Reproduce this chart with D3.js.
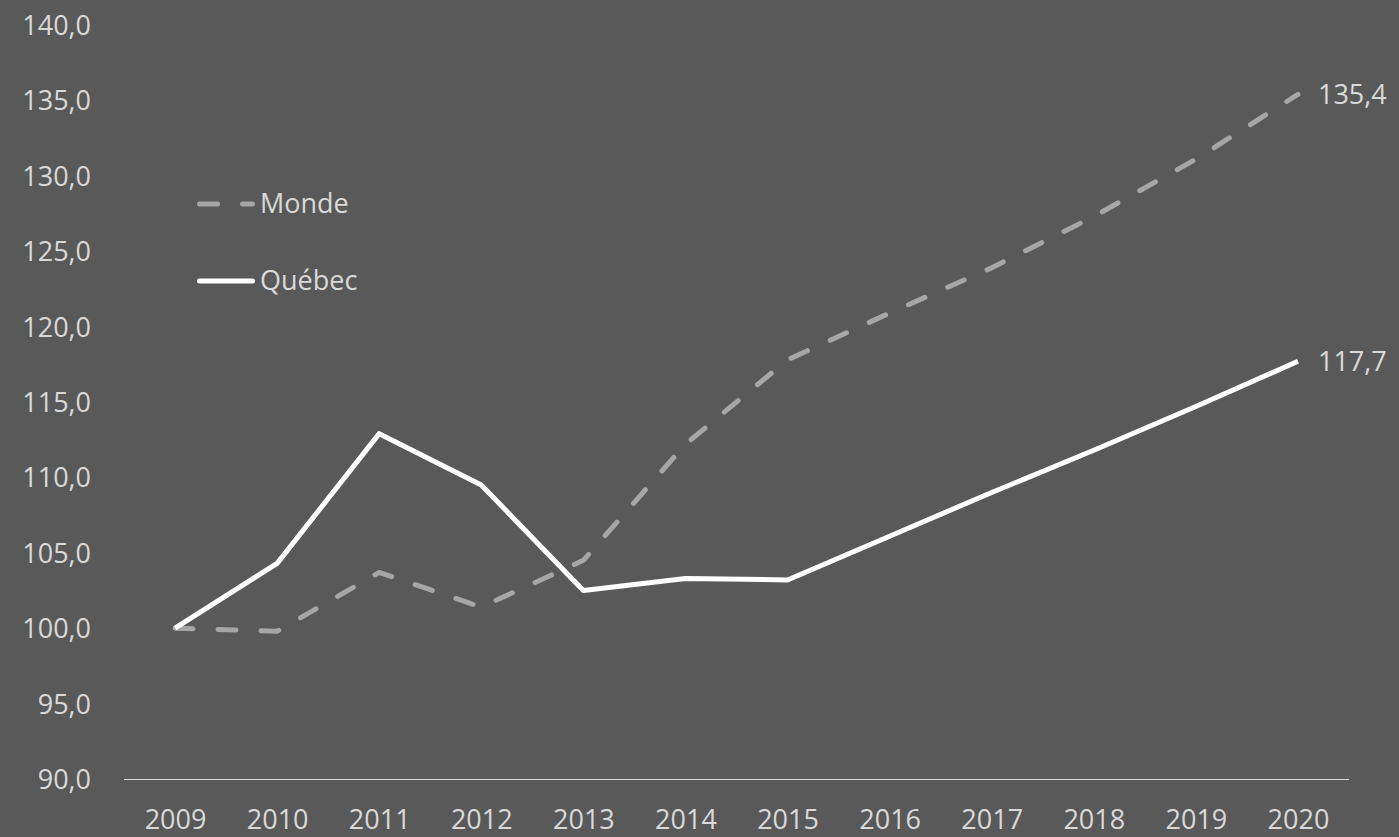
<!DOCTYPE html>
<html>
<head>
<meta charset="utf-8">
<script src="https://cdn.jsdelivr.net/npm/d3@7/dist/d3.min.js"></script>
<style>
  html, body { margin: 0; padding: 0; background: #595959; }
  svg { display: block; }
  text { font-family: "Open Sans", "Noto Sans", sans-serif; fill: #d9d9d9; }
</style>
</head>
<body>
<svg id="chart" width="1399" height="837"></svg>
<script>
// Index (2009 = 100)
const years = ["2009","2010","2011","2012","2013","2014","2015","2016","2017","2018","2019","2020"];
const monde = [100.0, 99.8, 103.7, 101.4, 104.5, 112.2, 117.8, 120.9, 123.9, 127.3, 131.1, 135.4];
const quebec = [100.0, 104.3, 112.9, 109.5, 102.5, 103.3, 103.2, 106.1, 109.0, 111.8, 114.7, 117.7];
const yTicks = [90, 95, 100, 105, 110, 115, 120, 125, 130, 135, 140];
const seriesNames = ["Monde", "Québec"];

const svg = d3.select("#chart");
const W = 1399, H = 837;
svg.append("rect").attr("width", W).attr("height", H).attr("fill", "#595959");

const x = d3.scalePoint().domain(years).range([124, 1349]).padding(0.5);
const y = d3.scaleLinear().domain([90, 140]).range([779, 25]);

const fmt = v => d3.format(".1f")(v).replace(".", ",");

// Y axis labels (no axis line)
const yAxis = d3.axisLeft(y).tickValues(yTicks).tickFormat(fmt).tickSize(0).tickPadding(0);
const gy = svg.append("g").attr("transform", "translate(91,0)").call(yAxis);
gy.select(".domain").remove();
gy.selectAll("text")
  .attr("font-size", 27)
  .attr("fill", "#d9d9d9")
  .attr("font-family", "'Open Sans', sans-serif")
  .attr("dy", "0.35em");

// X axis with baseline
const xAxis = d3.axisBottom(x).tickSize(0).tickPadding(0);
const gx = svg.append("g").attr("transform", `translate(0,${y(90)})`).call(xAxis);
gx.select(".domain")
  .attr("d", `M124,0.5H1349`)
  .attr("stroke", "#d9d9d9")
  .attr("stroke-width", 1.2);
gx.selectAll("text")
  .attr("font-size", 27)
  .attr("fill", "#d9d9d9")
  .attr("font-family", "'Open Sans', sans-serif")
  .attr("y", 41)
  .attr("dy", "0.35em");

const line = d3.line().x((d, i) => x(years[i])).y(d => y(d));

// Monde: grey dashed
svg.append("path")
  .datum(monde)
  .attr("d", line)
  .attr("fill", "none")
  .attr("stroke", "#a6a6a6")
  .attr("stroke-width", 5)
  .attr("stroke-linecap", "round")
  .attr("stroke-linejoin", "round")
  .attr("stroke-dasharray", "18,25");

// Québec: white solid
svg.append("path")
  .datum(quebec)
  .attr("d", line)
  .attr("fill", "none")
  .attr("stroke", "#ffffff")
  .attr("stroke-width", 5)
  .attr("stroke-linejoin", "round");

// End-value labels
const last = years.length - 1;
[monde, quebec].forEach(s => {
  svg.append("text")
    .attr("x", x(years[last]) + 20)
    .attr("y", y(s[last]))
    .attr("dy", "0.35em")
    .attr("font-size", 27)
    .text(fmt(s[last]));
});

// Legend
const legend = svg.append("g");
const legendRows = [
  { name: seriesNames[0], y: 204, stroke: "#a6a6a6", dash: "18,25" },
  { name: seriesNames[1], y: 281, stroke: "#ffffff", dash: null }
];
legendRows.forEach(r => {
  legend.append("line")
    .attr("x1", 199.5).attr("x2", 252.5)
    .attr("y1", r.y).attr("y2", r.y)
    .attr("stroke", r.stroke)
    .attr("stroke-width", 5)
    .attr("stroke-linecap", "round")
    .attr("stroke-dasharray", r.dash);
  legend.append("text")
    .attr("x", 260)
    .attr("y", r.y)
    .attr("dy", "0.35em")
    .attr("font-size", 27)
    .text(r.name);
});
</script>
</body>
</html>
